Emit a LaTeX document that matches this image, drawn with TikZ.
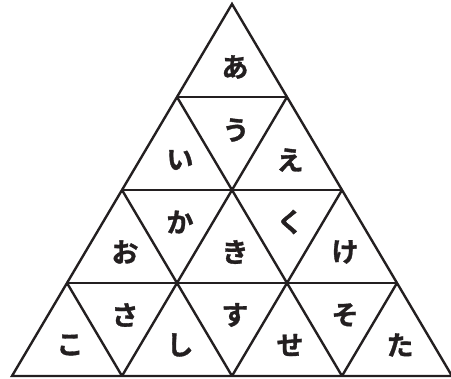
\documentclass[tikz,border=0pt]{standalone}
\usepackage{fontspec}
\newfontfamily\cjk[FakeBold=1.2]{Noto Sans CJK JP Bold}
\definecolor{ink}{HTML}{231F20}
\begin{document}
\begin{tikzpicture}[x=1pt,y=-1pt,
  edge/.style={draw=ink,line width=2.4pt,line join=miter},
  kana/.style={font=\cjk\fontsize{27}{27}\selectfont,text=ink,inner sep=0pt}]
\useasboundingbox (0,0) rectangle (451,379);
% corner coordinates
\coordinate (A) at (232,4);
\coordinate (L) at (12,376);
\coordinate (R) at (452,376);
% row points: row k at y = 4 + 93k
\foreach \k in {1,2,3} {
  \pgfmathsetmacro{\yy}{4+93*\k}
  \pgfmathsetmacro{\xl}{232-55*\k}
  \pgfmathsetmacro{\xr}{232+55*\k}
  \coordinate (l\k) at (\xl,\yy);
  \coordinate (r\k) at (\xr,\yy);
}
% bottom subdivision points
\coordinate (b1) at (122,376);
\coordinate (b2) at (232,376);
\coordinate (b3) at (342,376);
% outer triangle
\draw[edge] (A) -- (L) -- (R) -- cycle;
% horizontal lines
\draw[edge] (l1) -- (r1);
\draw[edge] (l2) -- (r2);
\draw[edge] (l3) -- (r3);
% down-right diagonals
\draw[edge] (l1) -- (b3);
\draw[edge] (l2) -- (b2);
\draw[edge] (l3) -- (b1);
% down-left diagonals
\draw[edge] (r1) -- (b1);
\draw[edge] (r2) -- (b2);
\draw[edge] (r3) -- (b3);
% labels
\node[kana] (n1) at (235,67) {あ};
\node[kana] (n2) at (180,160) {い};
\node[kana] (n3) at (236,130) {う};
\node[kana] (n4) at (290,160) {え};
\node[kana] (n5) at (125,252) {お};
\node[kana] (n6) at (180,222) {か};
\node[kana] (n7) at (235,252) {き};
\node[kana] (n8) at (290,222) {く};
\node[kana] (n9) at (345,252) {け};
\node[kana] (n10) at (70,345) {こ};
\node[kana] (n11) at (125,315) {さ};
\node[kana] (n12) at (180,345) {し};
\node[kana] (n13) at (235,315) {す};
\node[kana] (n14) at (290,345) {せ};
\node[kana] (n15) at (345,315) {そ};
\node[kana] (n16) at (400,345) {た};
\end{tikzpicture}
\end{document}
